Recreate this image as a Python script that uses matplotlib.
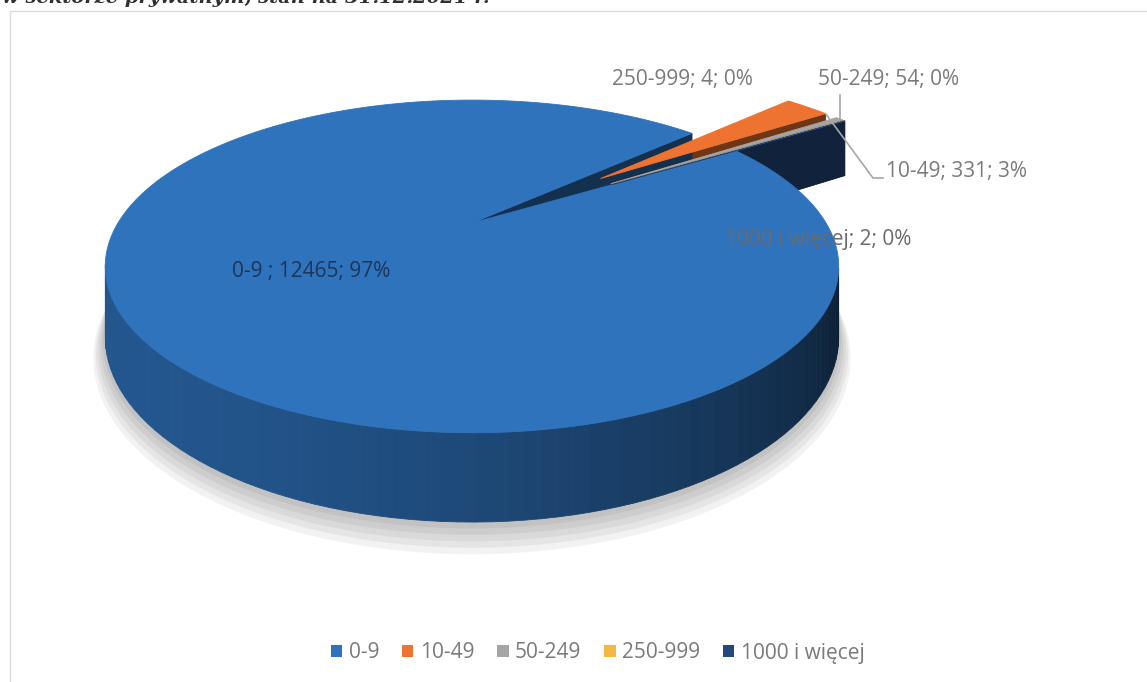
import numpy as np
import matplotlib.pyplot as plt
from matplotlib.patches import Patch, Rectangle
from matplotlib.colors import to_rgb

# data
categories = ['0-9 ', '10-49', '50-249', '250-999', '1000 i więcej']
values = [12465, 331, 54, 4, 2]
colors = ['#2F73BD', '#EE7330', '#A5A5A5', '#F5B843', '#24477E']
title_text = 'w sektorze prywatnym, stan na 31.12.2021 r.'

W, H = 1147, 682
fig = plt.figure(figsize=(W / 100, H / 100), dpi=100)
fig.patch.set_facecolor('white')
ax = fig.add_axes([0, 0, 1, 1])
ax.set_xlim(0, W)
ax.set_ylim(H, 0)
ax.axis('off')

#
# simple perspective projection of the pie plane onto the page
#
CX, CY = 472, 223      # page position of the pie centre
A0, B0, K = 354, 155, 0.261
DEPTH = 66
FIRST = 58.0           # angle of first slice, clockwise from 12 o'clock
EXPLODE = [0, 0.5, 0.5, 0.5, 0.5]
CAM_Y = -1 / K


def proj(wx, wy, wz=0.0):
    d = 1 + K * wy
    return CX + A0 * wx / d, CY + (-B0 * wy + wz * DEPTH) / d


def shade(col, nx, ny):
    lx, ly = -0.8, -0.6
    f = 0.45 + 0.3 * (nx * lx + ny * ly)
    return tuple(np.clip(np.array(to_rgb(col)) * f, 0, 1))


total = float(sum(values))
fracs = np.array(values) / total
ends = FIRST + np.cumsum(fracs) * 360
starts = ends - fracs * 360

offsets = []
for i in range(len(values)):
    mid = np.radians((starts[i] + ends[i]) / 2)
    offsets.append((EXPLODE[i] * np.sin(mid), EXPLODE[i] * np.cos(mid)))

# soft shadow under the big slice
th_all = np.radians(np.linspace(0, 360, 361))
for k in range(5, 0, -1):
    r = 1 + 0.006 * k
    pts = [proj(r * np.sin(t), r * np.cos(t), 1 + 0.05 * k) for t in th_all]
    ax.fill(*zip(*pts), color='black', alpha=0.05, lw=0, zorder=1)

walls = []
for i in range(len(values)):
    ox, oy = offsets[i]
    t0, t1 = starts[i], ends[i]
    n = max(2, int(np.ceil((t1 - t0) / 2)) + 1)
    th = np.radians(np.linspace(t0, t1, n))
    for a, b in zip(th[:-1], th[1:]):
        m = (a + b) / 2
        nx, ny = np.sin(m), np.cos(m)
        px, py = ox + nx, oy + ny
        if nx * (0 - px) + ny * (CAM_Y - py) <= 0:
            continue
        quad = [proj(ox + np.sin(a), oy + np.cos(a), 0),
                proj(ox + np.sin(b), oy + np.cos(b), 0),
                proj(ox + np.sin(b), oy + np.cos(b), 1),
                proj(ox + np.sin(a), oy + np.cos(a), 1)]
        walls.append((py, quad, shade(colors[i], nx, ny)))
    # the two cut faces of the slice
    for t, sgn in ((np.radians(t0), -1), (np.radians(t1), 1)):
        nx, ny = sgn * np.cos(t), -sgn * np.sin(t)
        px, py = ox + 0.5 * np.sin(t), oy + 0.5 * np.cos(t)
        if nx * (0 - px) + ny * (CAM_Y - py) <= 0:
            continue
        quad = [proj(ox, oy, 0),
                proj(ox + np.sin(t), oy + np.cos(t), 0),
                proj(ox + np.sin(t), oy + np.cos(t), 1),
                proj(ox, oy, 1)]
        walls.append((py, quad, shade(colors[i], nx, ny)))

walls.sort(key=lambda w: -w[0])
for z, (_, quad, c) in enumerate(walls):
    ax.fill(*zip(*quad), color=c, ec=c, lw=0.6, zorder=2 + z * 1e-4)

# top surfaces: the big slice first, exploded ones above it
for i in range(len(values)):
    ox, oy = offsets[i]
    th = np.radians(np.linspace(starts[i], ends[i],
                                max(3, int((ends[i] - starts[i]) * 2))))
    pts = [proj(ox, oy)] + [proj(ox + np.sin(t), oy + np.cos(t)) for t in th]
    ax.fill(*zip(*pts), color=colors[i], ec=colors[i], lw=0.6,
            zorder=4 if i == 0 else 5)

# data labels
labels = ['{}; {}; {}%'.format(c, v, int(round(v / total * 100)))
          for c, v in zip(categories, values)]
lab_font = dict(family='Open Sans', fontsize=15)
ax.text(311, 272, labels[0], color='#1D3557', ha='center', va='center',
        zorder=6, **lab_font)
ax.text(612, 80, labels[3], color='#7A7A7A', ha='left', va='center',
        zorder=6, **lab_font)
ax.text(818, 80, labels[2], color='#7A7A7A', ha='left', va='center',
        zorder=6, **lab_font)
ax.text(886, 172, labels[1], color='#7A7A7A', ha='left', va='center',
        zorder=6, **lab_font)
ax.text(725, 240, labels[4], color='#6A6A6A', ha='left', va='center',
        zorder=6, **lab_font)

# leader lines
ox, oy = offsets[2]
mid = np.radians((starts[2] + ends[2]) / 2)
gx, gy = proj(ox + np.sin(mid), oy + np.cos(mid))
ax.plot([gx, gx], [95, gy], color='#A6A6A6', lw=1.2, zorder=6)
ox, oy = offsets[1]
t = np.radians(ends[1])
rx, ry = proj(ox + np.sin(t), oy + np.cos(t))
ax.plot([rx, 873, 883], [ry, 178, 178], color='#A6A6A6', lw=1.2, zorder=6)

# partly cut title line from the page above the chart
ax.text(2, 3, title_text, family='DejaVu Serif', fontsize=14,
        fontweight='bold', fontstyle='italic', color='#303030',
        ha='left', va='baseline', zorder=6)

# chart frame
ax.add_patch(Rectangle((10, 11), W + 20, H + 20, fill=False,
                       ec='#DCDCDC', lw=1, zorder=0))

handles = [Patch(facecolor=c, edgecolor='none') for c in colors]
leg = fig.legend(handles, [c.strip() for c in categories], loc='center',
                 bbox_to_anchor=(0.521, 1 - 653 / H), ncol=5, frameon=False,
                 prop={'family': 'Open Sans', 'size': 15},
                 handlelength=0.55, handleheight=0.55, handletextpad=0.3,
                 columnspacing=1.1)
for txt in leg.get_texts():
    txt.set_color('#7A7A7A')

fig.savefig('out.png', dpi=100, facecolor='white')
